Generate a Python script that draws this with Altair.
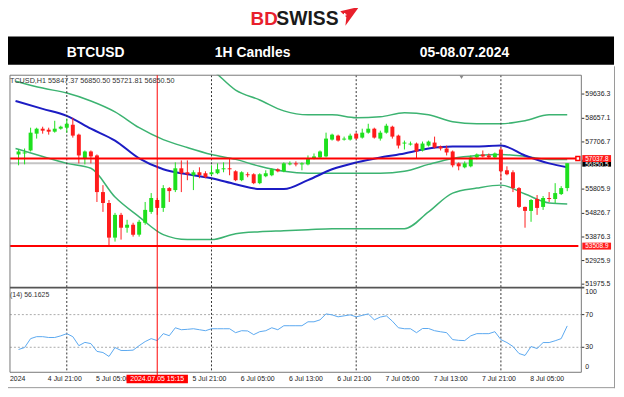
import altair as alt
import pandas as pd

# ---------------- data ----------------
hours = list(range(-8, 84))
opens = [57202, 57242, 57362, 58040, 58240, 58200, 58120, 58240, 58280, 58399,
         58000, 57043, 57322, 57162, 55686, 55247, 53851, 54768, 54250, 54370,
         53970, 54449, 54888, 55367, 55048, 55846, 55766, 56644, 56484, 56364,
         56484, 56444, 56404, 56444, 56604, 56644, 56524, 56165, 56404, 56404,
         56045, 56325, 56364, 56604, 56524, 56803, 56843, 56803, 56803, 57043,
         57083, 57123, 57801, 57961, 57801, 57801, 58040, 57881, 58080, 58240,
         57841, 58080, 58320, 57961, 57641, 57601, 57641, 57362, 57561, 57681,
         57522, 57442, 57322, 56843, 56684, 56724, 57083, 57202, 57162, 57083,
         57402, 56564, 56484, 55846, 55088, 54928, 55407, 55088, 55447, 55407,
         55606, 55847.37]
highs = [57402, 57442, 58280, 58280, 58320, 58280, 58559, 58360, 58639, 58679,
         58040, 57362, 57362, 57202, 55966, 55367, 54848, 54848, 54569, 54449,
         54569, 55287, 55646, 55447, 55966, 55886, 56883, 56963, 56963, 56564,
         56684, 56524, 56764, 56843, 56883, 57043, 56564, 56524, 56484, 56444,
         56444, 56564, 56644, 56644, 56883, 56923, 56923, 56883, 57162, 57242,
         57362, 58080, 58040, 58000, 57921, 58040, 58080, 58240, 58439, 58280,
         58160, 58439, 58360, 58000, 57761, 57721, 57681, 57721, 57761, 57921,
         57561, 57561, 57362, 56883, 56923, 57162, 57242, 57362, 57242, 57282,
         57482, 56724, 56564, 55886, 55100, 55407, 55567, 55527, 55686, 56045,
         55926, 56850.50]
lows = [56764, 56803, 57322, 57841, 58040, 58000, 58080, 58200, 58080, 57881,
        56843, 56803, 56843, 55287, 54888, 53492, 53691, 53771, 54050, 53891,
        53891, 54370, 54808, 54768, 54888, 55287, 55686, 55686, 56165, 55766,
        56245, 56245, 56364, 56404, 56484, 56364, 56125, 56125, 56285, 56005,
        56005, 56285, 56325, 56484, 56484, 56764, 56724, 56564, 56764, 57003,
        57043, 57083, 57761, 57721, 57761, 57761, 57801, 57841, 58040, 57841,
        57761, 58040, 57841, 57442, 57402, 57561, 57043, 57322, 57522, 57442,
        57362, 57162, 56684, 56564, 56644, 56684, 57003, 57083, 57043, 57043,
        56165, 56364, 55686, 55048, 54250, 54489, 54768, 54968, 55287, 55247,
        55567, 55721.81]
closes = [57322, 57282, 58080, 58240, 58160, 58120, 58240, 58320, 58439, 57961,
          57162, 57322, 57123, 55686, 55247, 53851, 54768, 54250, 54370, 53970,
          54489, 54968, 55447, 55048, 55846, 55726, 56644, 56444, 56404, 56484,
          56364, 56285, 56484, 56604, 56644, 56604, 56165, 56484, 56364, 56045,
          56404, 56444, 56604, 56524, 56843, 56843, 56803, 56843, 57043, 57123,
          57322, 57841, 58000, 57761, 57841, 57961, 57841, 58080, 58240, 57881,
          58080, 58360, 57921, 57561, 57681, 57641, 57322, 57641, 57721, 57482,
          57442, 57282, 56764, 56724, 56843, 57083, 57202, 57123, 57083, 57242,
          56524, 56404, 55846, 55088, 54928, 55367, 55048, 55447, 55407, 55646,
          55846, 56850.50]
rsi14 = [27.3, 29.7, 40.6, 43, 43, 42, 42, 44, 46.7, 43,
         32, 36, 34.5, 25, 23.6, 18.8, 29.7, 26.1, 26.1, 26.5,
         32, 37, 40.6, 38.2, 46.7, 44.2, 53.9, 51.5, 52, 52.7,
         51.5, 50.3, 52.7, 52.7, 52.7, 52.7, 47.9, 50.3, 50, 45.5,
         49.1, 50.3, 53.9, 51.5, 56.4, 56.4, 56.4, 56.4, 61.2, 61.2,
         63.6, 70.9, 69.7, 67.3, 68.5, 69.7, 67.3, 69, 70.9, 63.6,
         67, 68.5, 62, 53.9, 52.7, 52.7, 47.9, 53, 53, 50.3,
         49, 47.9, 39.4, 38.5, 38.2, 44, 46.7, 46.7, 46.7, 49.1,
         39.4, 35.8, 31, 22.4, 20, 30.9, 28.5, 35.8, 35.8, 38,
         40.6, 56.16]

band_hours = [-8.5, -4, 0, 4, 8, 12, 16, 20, 24, 28, 32, 36, 40, 44, 48, 52,
              56, 60, 64, 68, 72, 76, 80, 83]
bb_upper = [62868, 62629, 62509, 62070, 62350, 61871, 61631, 61192, 60634, 59796,
            59397, 58958, 58798, 58798, 58679, 58719, 58878, 58798, 58519, 58439,
            58439, 58559, 58798, 58798]
bb_middle = [60155, 59876, 59676, 59357, 58918, 58280, 57801, 57482, 57202, 57003,
             56724, 56524, 56444, 56444, 56444, 56444, 56524, 56803, 57043, 57162,
             57202, 57123, 57003, 57003]
bb_lower = [57442, 57123, 56843, 56644, 55487, 54689, 53970, 53771, 53771, 54010,
            54090, 54130, 54170, 54210, 54210, 54210, 54210, 54888, 55646, 55846,
            55966, 55606, 55247, 55207]
ma_blue = [59357, 59038, 58759, 58240, 57761, 57043, 56604, 56404, 56245, 56005,
           55806, 55806, 56165, 56604, 56883, 57083, 57242, 57442, 57522, 57522,
           57562, 57162, 56843, 56684]

level_prices = [57037.8, 53508.9]
last_price = 56850.5
price_ticks = [59636.3, 58657.1, 57706.7, 55805.9, 54826.7, 53876.3, 52925.9, 51975.5]
price_tick_labels = ["59636.3", "58657.1", "57706.7", "55805.9", "54826.7",
                     "53876.3", "52925.9", "51975.5"]
rsi_levels = [70, 30]
time_tick_hours = [0, 8, 24, 32, 40, 48, 56, 64, 72, 80]
time_tick_labels = ["4 Jul 21:00", "5 Jul 05:00", "5 Jul 21:00", "6 Jul 05:00",
                    "6 Jul 13:00", "6 Jul 21:00", "7 Jul 05:00", "7 Jul 13:00",
                    "7 Jul 21:00", "8 Jul 05:00"]
day_sep_hours = [0, 24, 48, 72]
cursor_hour = [15]
cursor_label = "2024.07.05 15:15"

# ---------------- style ----------------
FONT = "Liberation Sans"
GREEN = "#1ee01e"
RED = "#ff1c1c"
BB = "#3cb371"
MA = "#1c1cc4"
RSIC = "#5aa8f0"

XS = alt.Scale(domain=[-8.6, 84.52], range=[2, 579])
PS = alt.Scale(domain=[51855.8, 60394.4], range=[280, 66])
RS = alt.Scale(domain=[0, 100], range=[365.5, 283])

one = pd.DataFrame({"k": [0]})
candles = pd.DataFrame({"h": hours, "open": opens, "high": highs,
                        "low": lows, "close": closes, "rsi": rsi14})
bands = pd.DataFrame({"h": band_hours, "upper": bb_upper, "middle": bb_middle,
                      "lower": bb_lower, "ma": ma_blue})
xq = alt.X("h:Q", scale=XS, axis=None)
updown = alt.condition("datum.close >= datum.open", alt.value(GREEN), alt.value(RED))

# ---------------- price panel ----------------
last_df = pd.DataFrame({"p": [last_price]})
gray_line = alt.Chart(last_df).mark_rule(color="#c4c4c4", strokeWidth=2).encode(
    y=alt.Y("p:Q", scale=PS, axis=None), x=alt.value(2), x2=alt.value(579))

band_layers = []
for col in ["upper", "middle", "lower"]:
    band_layers.append(alt.Chart(bands).mark_line(color=BB, strokeWidth=1.5,
                                                  interpolate="monotone").encode(
        x=xq, y=alt.Y(f"{col}:Q", scale=PS, axis=None)))
ma_line = alt.Chart(bands).mark_line(color=MA, strokeWidth=2, interpolate="monotone").encode(
    x=xq, y=alt.Y("ma:Q", scale=PS, axis=None))

seps = alt.Chart(pd.DataFrame({"h": day_sep_hours})).mark_rule(
    color="#333333", strokeWidth=1, strokeDash=[2, 2]).encode(
    x=xq, y=alt.value(66), y2=alt.value(366))

wicks = alt.Chart(candles).mark_rule(strokeWidth=1).encode(
    x=xq, y=alt.Y("low:Q", scale=PS, axis=None), y2="high:Q", color=updown)
bodies = alt.Chart(candles).mark_bar(width=4).encode(
    x=xq, y=alt.Y("open:Q", scale=PS, axis=None), y2="close:Q", color=updown)

levels = alt.Chart(pd.DataFrame({"p": level_prices})).mark_rule(color="#ff0000", strokeWidth=2).encode(
    y=alt.Y("p:Q", scale=PS, axis=None), x=alt.value(2), x2=alt.value(576))
level_marker = alt.Chart(pd.DataFrame({"p": level_prices[:1]})).mark_square(
    size=16, fill="white", stroke="#ff0000", strokeWidth=1.5, opacity=1).encode(
    y=alt.Y("p:Q", scale=PS, axis=None), x=alt.value(575.5))

ticks_df = pd.DataFrame({"p": price_ticks, "t": price_tick_labels})
ptick = alt.Chart(ticks_df).mark_rule(color="#333", strokeWidth=1).encode(
    y=alt.Y("p:Q", scale=PS, axis=None), x=alt.value(579), x2=alt.value(582))
plabels = alt.Chart(ticks_df).mark_text(font=FONT, fontSize=7, align="left",
                                        baseline="middle", color="#222").encode(
    y=alt.Y("p:Q", scale=PS, axis=None), x=alt.value(583), text="t:N")

box_black = alt.Chart(last_df).mark_rule(color="#000000", strokeWidth=7).encode(
    y=alt.Y("p:Q", scale=PS, axis=None), x=alt.value(580), x2=alt.value(609))
box_black_t = alt.Chart(last_df).mark_text(font=FONT, fontSize=6.5, align="left",
                                           baseline="middle", color="white", dy=2).encode(
    y=alt.Y("p:Q", scale=PS, axis=None), x=alt.value(583), text=alt.value("56850.5"))
lvl1 = pd.DataFrame({"p": level_prices[:1]})
box_red = alt.Chart(lvl1).mark_rule(color="#ff1c1c", strokeWidth=7).encode(
    y=alt.Y("p:Q", scale=PS, axis=None), x=alt.value(580), x2=alt.value(609))
box_red_t = alt.Chart(lvl1).mark_text(font=FONT, fontSize=6.5, align="left",
                                      baseline="middle", color="white").encode(
    y=alt.Y("p:Q", scale=PS, axis=None), x=alt.value(583), text=alt.value("57037.8"))
lvl2 = pd.DataFrame({"p": level_prices[1:]})
box_red2 = alt.Chart(lvl2).mark_rule(color="#ff1c1c", strokeWidth=7).encode(
    y=alt.Y("p:Q", scale=PS, axis=None), x=alt.value(580), x2=alt.value(609))
box_red2_t = alt.Chart(lvl2).mark_text(font=FONT, fontSize=6.5, align="left",
                                       baseline="middle", color="white").encode(
    y=alt.Y("p:Q", scale=PS, axis=None), x=alt.value(583), text=alt.value("53508.9"))

price_group = alt.layer(gray_line, *band_layers, ma_line, seps, wicks, bodies,
                        levels, level_marker, ptick, plabels, box_black, box_black_t,
                        box_red, box_red_t, box_red2, box_red2_t)

# ---------------- RSI panel ----------------
rlev = alt.Chart(pd.DataFrame({"v": rsi_levels})).mark_rule(
    color="#aaaaaa", strokeWidth=1, strokeDash=[2, 2]).encode(
    y=alt.Y("v:Q", scale=RS, axis=None), x=alt.value(2), x2=alt.value(579))
rline = alt.Chart(candles).mark_line(color=RSIC, strokeWidth=1).encode(
    x=xq, y=alt.Y("rsi:Q", scale=RS, axis=None))
rlab_df = pd.DataFrame({"v": rsi_levels, "t": [str(v) for v in rsi_levels]})
rlab = alt.Chart(rlab_df).mark_text(font=FONT, fontSize=7, align="left",
                                    baseline="middle", color="#222").encode(
    y=alt.Y("v:Q", scale=RS, axis=None), x=alt.value(583), text="t:N")
rtick = alt.Chart(rlab_df).mark_rule(color="#333").encode(
    y=alt.Y("v:Q", scale=RS, axis=None), x=alt.value(579), x2=alt.value(582))
r100 = alt.Chart(pd.DataFrame({"v": [100]})).mark_text(
    font=FONT, fontSize=7, align="left", baseline="middle", color="#222", dy=2).encode(
    y=alt.Y("v:Q", scale=RS, axis=None), x=alt.value(583), text=alt.value("100"))
r0 = alt.Chart(pd.DataFrame({"v": [0]})).mark_text(
    font=FONT, fontSize=7, align="left", baseline="middle", color="#222", dy=-4.5).encode(
    y=alt.Y("v:Q", scale=RS, axis=None), x=alt.value(583), text=alt.value("0"))
rsi_group = alt.layer(rlev, rline, rlab, rtick, r100, r0)

# ---------------- decorations ----------------
mask = alt.Chart(one).mark_rect(color="white").encode(
    x=alt.value(0), x2=alt.value(614), y=alt.value(0), y2=alt.value(65.5))
frame = alt.Chart(one).mark_rect(fillOpacity=0, stroke="#777777", strokeWidth=1).encode(
    x=alt.value(2), x2=alt.value(579), y=alt.value(66), y2=alt.value(366))
separator = alt.Chart(one).mark_rule(color="#555555", strokeWidth=2).encode(
    x=alt.value(2), x2=alt.value(582), y=alt.value(280.5))
outer_r = alt.Chart(one).mark_rule(color="#999999", strokeWidth=1).encode(
    x=alt.value(612.5), y=alt.value(57), y2=alt.value(382))
outer_b = alt.Chart(one).mark_rule(color="#999999", strokeWidth=1).encode(
    x=alt.value(0), x2=alt.value(613), y=alt.value(381.5))
shift_mark = alt.Chart(one).mark_point(shape="triangle-down", filled=True, size=18,
                                       color="#888888", opacity=1).encode(
    x=alt.value(458), y=alt.value(68))

cur_df = pd.DataFrame({"h": cursor_hour})
cursor = alt.Chart(cur_df).mark_rule(color="#ff0000", strokeWidth=1).encode(
    x=xq, y=alt.value(66), y2=alt.value(369))

price_title = alt.Chart(one).mark_text(
    font=FONT, fontSize=7.3, align="left", baseline="middle", color="#333",
    text="TCUSD,H1  55847.37 56850.50 55721.81 56850.50").encode(
    x=alt.value(2), y=alt.value(72))
rsi_title = alt.Chart(one).mark_text(
    font=FONT, fontSize=7, align="left", baseline="middle", color="#333",
    text="(14) 56.1625").encode(x=alt.value(2), y=alt.value(288))

tdf = pd.DataFrame({"h": time_tick_hours, "t": time_tick_labels})
tlabels = alt.Chart(tdf).mark_text(font=FONT, fontSize=7, baseline="middle",
                                   color="#222", dx=-2).encode(
    x=xq, y=alt.value(372.7), text="t:N")
tfirst = alt.Chart(one).mark_text(font=FONT, fontSize=7, align="left", baseline="middle",
                                  color="#222", text="2024").encode(
    x=alt.value(2), y=alt.value(372.7))
cur_box = alt.Chart(cur_df).mark_bar(width=62, color="#ff0000").encode(
    x=xq, y=alt.value(368.5), y2=alt.value(377))
cur_text = alt.Chart(cur_df).mark_text(font=FONT, fontSize=7, baseline="middle",
                                       color="white", text=cursor_label).encode(
    x=xq, y=alt.value(372.7))

header_bar = alt.Chart(one).mark_rect(color="#000000").encode(
    x=alt.value(0), x2=alt.value(612), y=alt.value(27), y2=alt.value(55.5))
head_texts = []
for label, cx in [("BTCUSD", 88.5), ("1H Candles", 247), ("05-08.07.2024", 461)]:
    head_texts.append(alt.Chart(one).mark_text(
        font=FONT, fontSize=14, fontWeight="bold", color="white",
        baseline="middle", align="center", text=label).encode(
        x=alt.value(cx), y=alt.value(44)))
logo_bd = alt.Chart(one).mark_text(font=FONT, fontSize=19, fontWeight="bold",
                                   color="#e8202c", align="left", baseline="alphabetic",
                                   text="BD").encode(x=alt.value(245), y=alt.value(15))
logo_sw = alt.Chart(one).mark_text(font=FONT, fontSize=19.5, fontWeight="bold",
                                   color="#1a1a1a", align="left", baseline="alphabetic",
                                   text="SWISS").encode(x=alt.value(271), y=alt.value(15))
flag = alt.Chart(one).mark_point(
    shape="M -1 -0.55 L 1 -1 L -0.45 1 L -0.35 0.1 Z", filled=True, size=361,
    color="#e8202c", opacity=1).encode(x=alt.value(345), y=alt.value(6.5))
flag_cross = alt.Chart(one).mark_point(shape="cross", filled=True, size=12,
                                       color="white", opacity=1).encode(
    x=alt.value(340), y=alt.value(5))

chart = alt.layer(
    price_group, rsi_group, mask, frame, separator, cursor, shift_mark,
    price_title, rsi_title, tlabels, tfirst, cur_box, cur_text,
    header_bar, *head_texts, logo_bd, logo_sw, flag, flag_cross,
    outer_r, outer_b,
).resolve_scale(y="independent").properties(
    width=614, height=383, padding=0, autosize="none"
).configure_view(strokeWidth=0)

chart.save("out.html", embed_options={"renderer": "svg", "actions": False})
